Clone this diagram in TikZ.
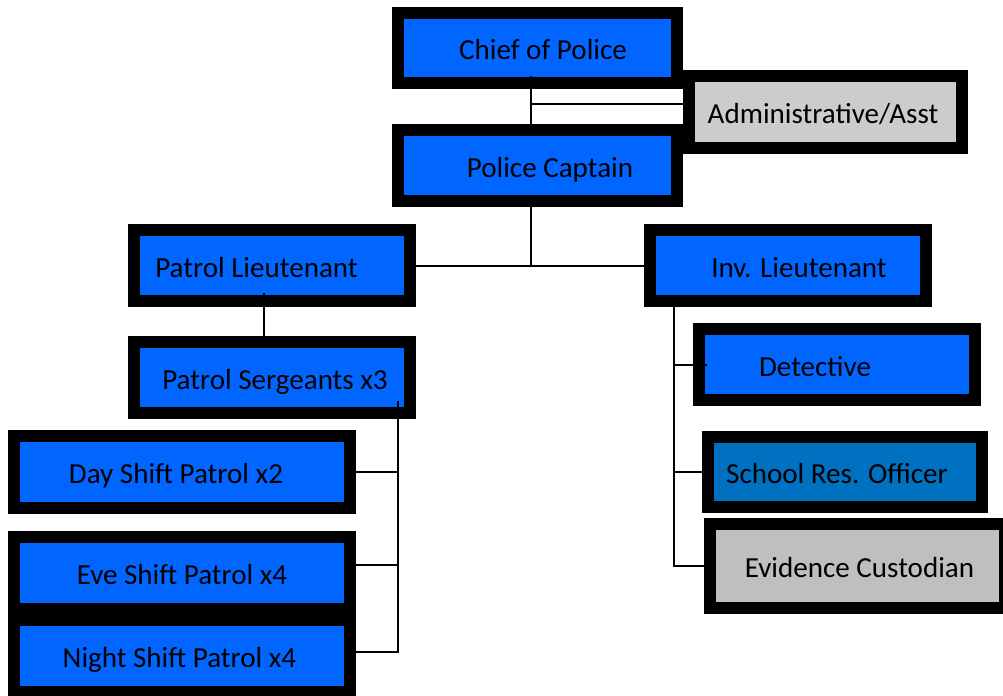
\documentclass[tikz,border=0pt]{standalone}
\usepackage{fontspec}
\setmainfont{Carlito}
\usetikzlibrary{fit}
\definecolor{boxblue}{HTML}{0066FF}
\definecolor{srblue}{HTML}{0070C0}
\definecolor{admgray}{HTML}{CCCCCC}
\definecolor{evgray}{HTML}{BFBFBF}
\tikzset{
  orgbox/.style={draw=black, line width=9pt, inner sep=0pt, outer sep=0pt, rectangle},
  lbl/.style={font=\fontsize{21.8}{24}\selectfont, inner sep=0pt, text height=15pt, text depth=4pt, yshift=-3.2pt},
  conn/.style={draw=black, line width=1.5pt},
}
\newcommand\orgnode[8]{\node[orgbox, fill=#6, fit={(#2+6,#3+6) (#4-6,#5-6)}, label={[lbl, xshift=#7*0.75pt]center:#8}] (#1) {};}
\begin{document}
\begin{tikzpicture}[x=0.75pt,y=-0.75pt]
\useasboundingbox (0,0) rectangle (1003,696);
\clip (0,0) rectangle (1003,696);
\orgnode{chief}{392}{7}{683}{89}{boxblue}{5.5}{Chief of Police}
\orgnode{admin}{683}{70}{968}{154}{admgray}{-2.5}{Administrative/Asst}
\orgnode{captain}{392}{124}{683}{207}{boxblue}{12.5}{Police Captain}
\orgnode{patlt}{128}{224}{416}{307}{boxblue}{-15.5}{Patrol Lieutenant}
\orgnode{sgt}{128}{336}{416}{419}{boxblue}{3}{Patrol Sergeants x3}
\orgnode{day}{8}{430}{356}{514}{boxblue}{-6}{Day Shift Patrol x2}
\orgnode{eve}{8}{531}{356}{615}{boxblue}{0}{Eve Shift Patrol x4}
\orgnode{night}{8}{614}{356}{698}{boxblue}{-2.5}{Night Shift Patrol x4}
\orgnode{invlt}{644}{224}{932}{307}{boxblue}{11}{Inv. Lieutenant}
\orgnode{det}{693}{323}{981}{406}{boxblue}{-22}{Detective}
\orgnode{school}{702}{431}{988}{513}{srblue}{-8}{School Res. Officer}
\orgnode{evid}{704}{518}{1011}{614}{evgray}{2}{Evidence Custodian}
\coordinate (topspine) at (531,0);
\coordinate (sspine) at (398,0);
\coordinate (ispine) at (674,0);
\draw[conn] ([yshift=5.25pt]chief.south -| topspine) -- (captain.north -| topspine);
\draw[conn] ([yshift=6pt]admin.west -| topspine) -- ([yshift=6pt]admin.west);
\draw[conn] (captain.south -| topspine) -- (patlt.east -| topspine);
\draw[conn] (patlt.east) -- (invlt.west);
\draw[conn] ([xshift=-6pt,yshift=6pt]patlt.south) -- ([xshift=-6pt]sgt.north);
\draw[conn] ([yshift=9pt]sgt.south -| sspine) -- ([yshift=3pt]night.east -| sspine) -- ([yshift=3pt]night.east);
\draw[conn] (day.east) -- (day.east -| sspine);
\draw[conn] ([yshift=6pt]eve.east) -- ([yshift=6pt]eve.east -| sspine);
\draw[conn] (invlt.south -| ispine) -- (evid.west -| ispine) -- (evid.west);
\draw[conn] (det.west -| ispine) -- ([xshift=6pt]det.west);
\draw[conn] (school.west -| ispine) -- (school.west);
\end{tikzpicture}
\end{document}
